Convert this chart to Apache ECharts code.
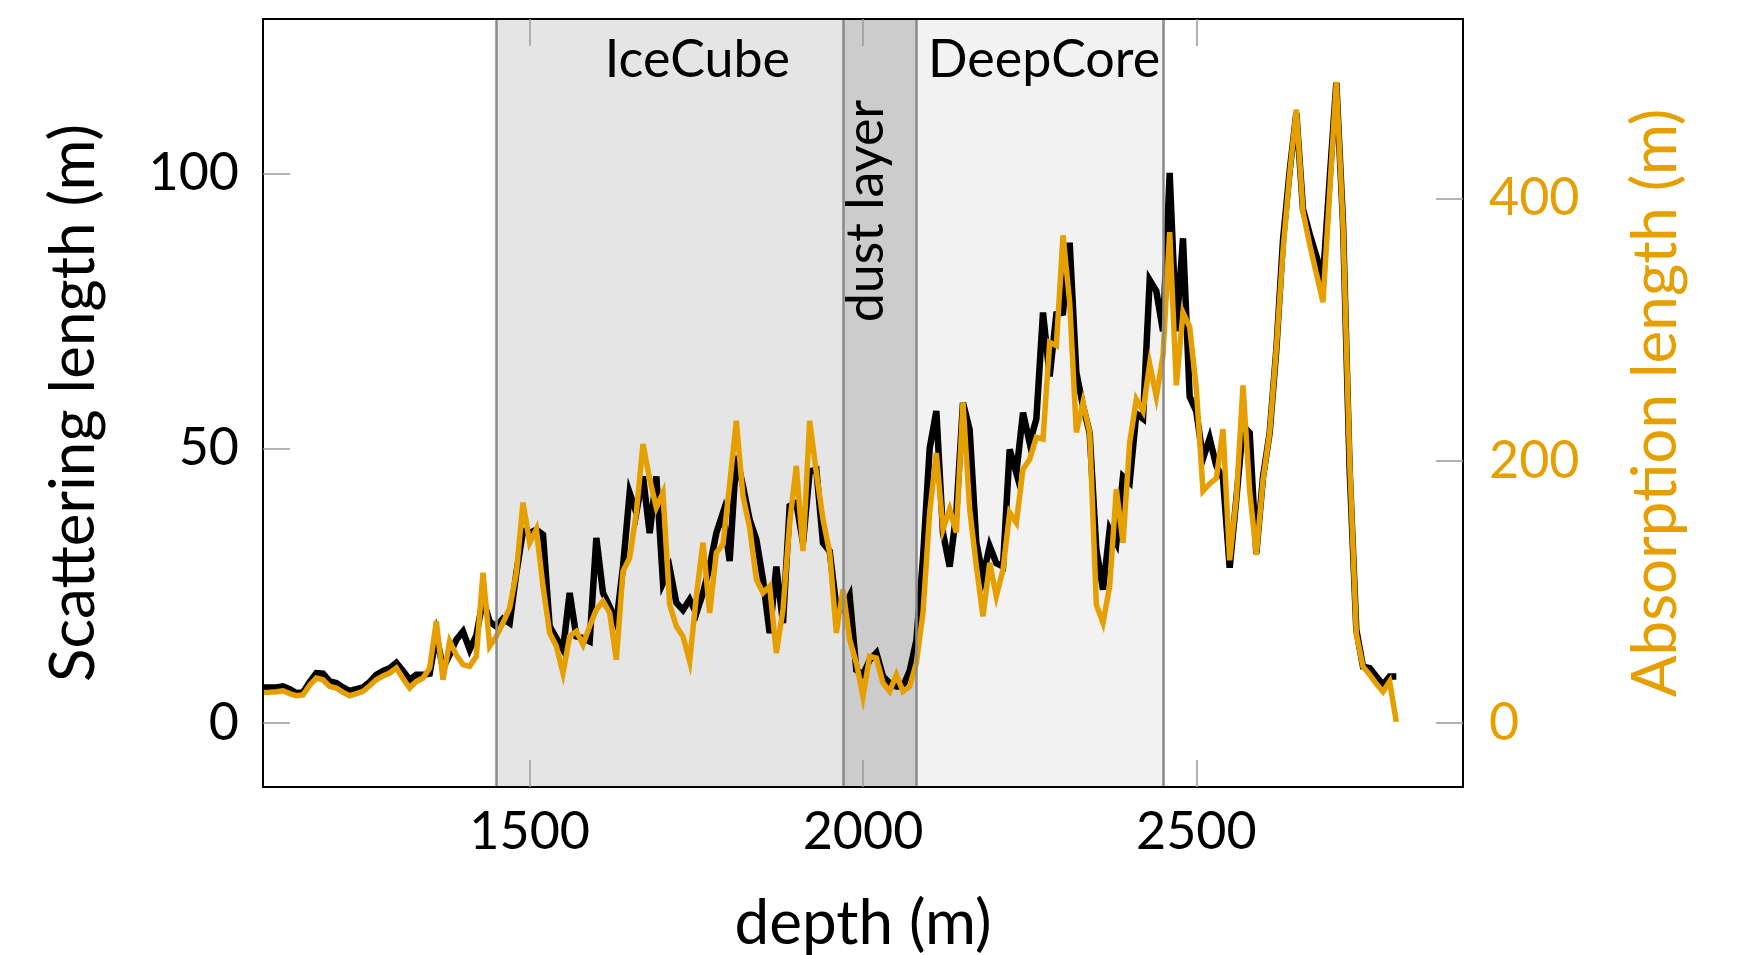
<!DOCTYPE html>
<html><head><meta charset="utf-8">
<script src="https://cdn.jsdelivr.net/npm/echarts@6/dist/echarts.min.js"></script>
<style>html,body{margin:0;padding:0;background:#fff}#c{width:1742px;height:955px}</style>
</head><body><div id="c"></div>
<script>
const depth = [1100,1110,1120,1130,1140,1150,1160,1170,1180,1190,1200,1210,1220,1230,1240,1250,1260,1270,1280,1290,1300,1310,1320,1330,1340,1350,1360,1370,1380,1390,1400,1410,1420,1430,1440,1450,1460,1470,1480,1490,1500,1510,1520,1530,1540,1550,1560,1570,1580,1590,1600,1610,1620,1630,1640,1650,1660,1670,1680,1690,1700,1710,1720,1730,1740,1750,1760,1770,1780,1790,1800,1810,1820,1830,1840,1850,1860,1870,1880,1890,1900,1910,1920,1930,1940,1950,1960,1970,1980,1990,2000,2010,2020,2030,2040,2050,2060,2070,2080,2090,2100,2110,2120,2130,2140,2150,2160,2170,2180,2190,2200,2210,2220,2230,2240,2250,2260,2270,2280,2290,2300,2310,2320,2330,2340,2350,2360,2370,2380,2390,2400,2410,2420,2430,2440,2450,2460,2470,2480,2490,2500,2510,2520,2530,2540,2550,2560,2570,2580,2590,2600,2610,2620,2630,2640,2650,2660,2670,2680,2690,2700,2710,2720,2730,2740,2750,2760,2770,2780,2790,2800];
const scattering = [6.5,6.5,6.5,6.7,6.2,5.5,5.6,7.5,9.1,9.0,7.6,7.3,6.5,5.9,6.2,6.5,7.5,8.8,9.5,10.0,11.0,9.5,7.9,8.8,8.8,9.0,16.0,10.0,12.5,15.2,16.7,13.4,16.0,22.5,18.5,17.6,19.0,18.2,27.3,35.0,34.6,35.2,34.3,17.6,15.5,13.4,23.7,15.8,15.5,14.9,33.7,23.7,21.2,18.2,28.5,41.9,38.3,44.9,34.6,44.9,25.5,28.2,21.9,20.6,22.5,20.0,23.7,28.5,34.6,38.3,29.5,48.6,43.1,37.0,33.4,26.1,16.4,28.5,18.2,39.5,40.1,32.8,45.8,46.1,32.8,31.3,21.2,20.6,23.1,9.7,8.8,11.5,12.8,8.5,7.3,6.7,6.7,9.5,15.0,30.0,50.0,56.8,34.6,28.5,38.3,58.3,53.4,32.8,26.7,32.2,29.1,28.5,49.8,45.5,56.5,51.0,55.3,74.7,63.1,74.4,74.7,87.4,63.8,57.7,52.8,31.6,24.3,35.2,32.8,44.9,43.8,56.3,55.4,80.6,78.6,71.3,100.1,71.3,88.2,59.4,56.7,48.1,51.8,46.8,44.5,28.3,40.8,54.1,52.8,30.9,44.8,52.8,68.0,87.9,100.5,111.0,93.5,89.0,85.0,81.0,99.0,116.5,91.0,46.0,17.0,10.3,10.0,8.5,7.0,8.5,8.5];
const absorption = [23.4,23.5,24.0,24.7,22.5,20.9,21.6,29.0,34.4,33.1,28.0,26.8,23.5,20.9,22.5,24.2,28.5,33.1,36.0,38.2,42.0,34.0,26.8,31.8,34.4,42.0,77.7,33.1,62.4,52.0,44.6,43.3,51.0,114.7,58.6,66.2,76.5,87.9,114.7,168.2,137.6,147.8,104.4,68.8,58.6,38.2,66.2,70.0,59.9,73.9,86.6,93.0,84.1,48.4,115.9,126.1,160.6,212.8,186.0,164.4,175.8,90.4,73.9,66.2,47.1,96.8,137.6,84.1,130.0,136.3,182.0,230.6,173.0,149.0,109.6,99.4,104.4,53.5,86.6,152.9,196.2,131.2,230.6,191.1,155.4,130.0,68.8,101.9,63.7,45.9,20.3,50.9,49.7,30.6,24.2,36.9,24.2,28.0,45.9,84.1,160.6,206.0,147.8,163.1,145.3,244.6,163.1,119.7,81.5,122.3,96.8,117.2,160.6,152.9,193.7,201.3,217.9,216.6,290.5,287.9,372.0,321.1,221.7,244.6,221.7,90.4,76.5,104.4,178.4,137.6,214.0,247.0,238.0,274.0,249.0,280.0,374.4,257.6,313.2,302.1,254.8,177.0,182.6,186.7,224.2,124.2,171.4,257.6,177.0,128.3,185.3,221.5,285.6,360.5,418.8,468.0,390.0,365.0,343.0,321.0,405.0,489.0,380.0,200.0,68.0,43.0,37.0,30.0,24.0,31.8,1.0];
const xTicks = [1500, 2000, 2500];
const leftTicks = [0, 50, 100];
const rightTicks = [0, 200, 400];
const bandNames = ['IceCube', 'dust layer', 'DeepCore'];
const bandStart = [1450, 1970, 2080];
const bandEnd = [1970, 2080, 2450];

const FONT = 'Lato, "Open Sans", sans-serif';
const FS = 52;
const FSN = 62;
const ORANGE = '#E69F00';
const bandColors = ['#e5e5e5', '#cccccc', '#f2f2f2'];
const bandLabelPos = [['58%', 41], ['31.5%', 192], ['51.8%', 41]];
const bandLabelRot = [0, 90, 0];

const chart = echarts.init(document.getElementById('c'), null, {renderer: 'canvas'});
const tickStyle = {color: '#9a9a9a', width: 1.5};
const boxLine = {color: '#000', width: 2};
const txt = (c, s) => ({color: c, fontFamily: FONT, fontSize: s || FS});

const option = {
  animation: false,
  backgroundColor: '#fff',
  grid: {left: 263, right: 279, top: 19, bottom: 168, containLabel: false, outerBoundsMode: 'none'},
  xAxis: [{
    type: 'value', min: 1100, max: 2900, position: 'bottom', z: 10,
    axisLine: {show: true, onZero: false, lineStyle: boxLine},
    axisTick: {show: true, inside: true, length: 27, customValues: xTicks, lineStyle: tickStyle},
    axisLabel: Object.assign({customValues: xTicks, margin: 19, formatter: v => String(v)}, txt('#000')),
    splitLine: {show: false},
    name: 'depth (m)', nameLocation: 'middle', nameGap: 106, nameTextStyle: txt('#000', FSN)
  }, {
    type: 'value', min: 1100, max: 2900, position: 'top', z: 10,
    axisLine: {show: true, onZero: false, lineStyle: boxLine},
    axisTick: {show: true, inside: true, length: 27, customValues: xTicks, lineStyle: tickStyle},
    axisLabel: {show: false},
    splitLine: {show: false}
  }],
  yAxis: [{
    type: 'value', min: -11.6, max: 128.1, position: 'left', z: 10,
    axisLine: {show: true, onZero: false, lineStyle: boxLine},
    axisTick: {show: true, inside: true, length: 27, customValues: leftTicks, lineStyle: tickStyle},
    axisLabel: Object.assign({customValues: leftTicks, margin: 24}, txt('#000')),
    splitLine: {show: false},
    name: 'Scattering length (m)', nameLocation: 'middle', nameGap: 158, nameTextStyle: txt('#000', FSN)
  }, {
    type: 'value', min: -48.7, max: 537, position: 'right', z: 10,
    axisLine: {show: true, onZero: false, lineStyle: boxLine},
    axisTick: {show: true, inside: true, length: 27, customValues: rightTicks, lineStyle: tickStyle},
    axisLabel: Object.assign({customValues: rightTicks, margin: 26}, txt(ORANGE)),
    splitLine: {show: false},
    name: 'Absorption length (m)', nameLocation: 'middle', nameGap: 162, nameTextStyle: txt(ORANGE, FSN)
  }],
  series: [{
    name: 'bands', type: 'line', data: [], xAxisIndex: 0, yAxisIndex: 0, z: 1, silent: true,
    markArea: {
      silent: true,
      data: bandNames.map((n, i) => [{
        xAxis: bandStart[i],
        itemStyle: {color: bandColors[i]},
        label: Object.assign({show: true, formatter: n, position: bandLabelPos[i], rotate: bandLabelRot[i],
          align: 'center', verticalAlign: 'middle'}, txt('#000'))
      }, {xAxis: bandEnd[i]}])
    },
    markLine: {
      silent: true, symbol: 'none', label: {show: false},
      lineStyle: {color: '#8a8a8a', width: 2.5, type: 'solid'},
      data: [bandStart[0], bandStart[1], bandStart[2], bandEnd[2]].map(v => ({xAxis: v}))
    }
  }, {
    name: 'Scattering', type: 'line', xAxisIndex: 0, yAxisIndex: 0, z: 3,
    data: depth.map((d, i) => [d, scattering[i]]),
    symbol: 'none', showSymbol: false,
    lineStyle: {color: '#000', width: 6.5, join: 'miter', miterLimit: 6}
  }, {
    name: 'Absorption', type: 'line', xAxisIndex: 0, yAxisIndex: 1, z: 4,
    data: depth.map((d, i) => [d, absorption[i]]),
    symbol: 'none', showSymbol: false,
    lineStyle: {color: ORANGE, width: 5.5, join: 'miter', miterLimit: 6}
  }]
};
chart.setOption(option);
</script>
</body></html>
